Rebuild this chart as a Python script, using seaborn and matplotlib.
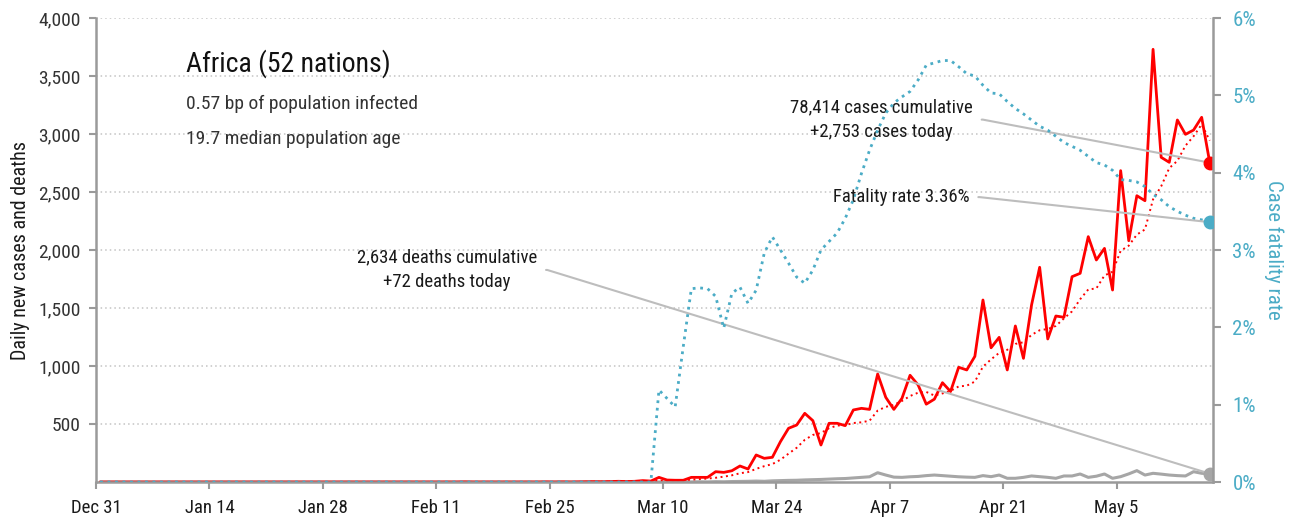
import numpy as np
import pandas as pd
import matplotlib
matplotlib.use("Agg")
import matplotlib.pyplot as plt
import matplotlib.dates as mdates
import seaborn as sns

# ---- data (Dec 31 2019 .. May 16 2020) ----
start_date = "2019-12-31"
tick_labels = ["Dec 31", "Jan 14", "Jan 28", "Feb 11", "Feb 25",
               "Mar 10", "Mar 24", "Apr 7", "Apr 21", "May 5"]

# daily new cases
cases = ([0] * 45
         + [1, 0, 0, 0, 0, 0, 0, 0, 0, 0, 1, 0, 1, 0, 1, 2, 3, 2, 4, 6, 4, 6, 12, 8]
         + [40, 17, 15, 15, 40, 40, 40, 89, 83, 97,
            138, 112, 233, 204, 213, 348, 463, 491, 592, 529,
            319, 506, 506, 486, 621, 635, 626, 931, 730, 626, 721]
         + [920, 836, 671, 714, 856, 780, 989, 966, 1083, 1569,
            1157, 1247, 966, 1345, 1066, 1526, 1851, 1233, 1431, 1420,
            1770, 1799, 2115, 1914, 2014, 1655, 2684, 2080, 2468, 2425,
            3730, 2799, 2756, 3121, 2997, 3034, 3144, 2753])

# daily new deaths
deaths = ([0] * 68
          + [1, 0, 1, 0, 1, 1, 2, 1, 3, 2, 4, 5, 6, 8, 6, 10, 12, 14]
          + [15, 18, 20, 22, 25, 28, 30, 35, 40, 45, 80, 60, 42, 40]
          + [45, 48, 55, 60, 55, 50, 45, 42, 40, 55]
          + [46, 60, 32, 32, 40, 52, 46, 40, 32, 52]
          + [52, 69, 40, 50, 69, 32, 46, 70, 98, 60]
          + [75, 68, 60, 55, 52, 89, 75, 72])

# case fatality rate, %
cfr = ([0] * 69
       + [1.19, 1.08, 0.97, 1.75, 2.50, 2.51, 2.50, 2.40, 1.99, 2.44]
       + [2.52, 2.31, 2.48, 2.96, 3.17, 3.00, 2.83, 2.65, 2.57, 2.74]
       + [3.00, 3.11, 3.22, 3.41, 3.65, 3.99, 4.29, 4.55, 4.77, 4.90]
       + [4.98, 5.05, 5.20, 5.39, 5.42, 5.45, 5.45, 5.37, 5.28, 5.25]
       + [5.13, 5.03, 5.02, 4.92, 4.83, 4.76, 4.68, 4.60, 4.55, 4.47]
       + [4.39, 4.34, 4.29, 4.21, 4.13, 4.10, 4.03, 3.91, 3.90, 3.88]
       + [3.82, 3.72, 3.65, 3.56, 3.50, 3.45, 3.41, 3.39, 3.36])

title = "Africa (52 nations)"
subtitle_1 = "0.57 bp of population infected"
subtitle_2 = "19.7 median population age"
cases_note = "78,414 cases cumulative\n+2,753 cases today"
deaths_note = "2,634 deaths cumulative\n+72 deaths today"
cfr_note = "Fatality rate 3.36%"

RED = "#ff0000"
CYAN = "#4bacc6"
GREY = "#a6a6a6"
LEAD = "#bdbdbd"
SPINE = "#9a9a9a"
TXT = "#1a1a1a"

sns.set_theme(style="white")
plt.rcParams["font.family"] = ["Roboto Condensed", "Liberation Sans Narrow",
                               "Roboto", "DejaVu Sans"]

# points sit at mid-day
dates = pd.date_range(start_date, periods=len(cases), freq="D") + pd.Timedelta(hours=12)
df = pd.DataFrame({"date": dates, "cases": cases, "deaths": deaths, "cfr": cfr})
df["avg"] = df["cases"].rolling(7, min_periods=1).mean()
last = df.iloc[-1]

fig = plt.figure(figsize=(12.91, 5.22), dpi=100)
ax = fig.add_axes([96 / 1291, 40 / 522, 1117 / 1291, 464 / 522])

sns.lineplot(data=df, x="date", y="deaths", color=GREY, lw=2.2, ax=ax)
sns.lineplot(data=df, x="date", y="avg", color=RED, lw=1.4, linestyle=(0, (1, 1.8)), ax=ax)
sns.lineplot(data=df, x="date", y="cases", color=RED, lw=2.0, ax=ax)
ax.plot([last["date"]], [last["cases"]], "o", color=RED, ms=9, zorder=5)
ax.plot([last["date"]], [last["deaths"]], "o", color=GREY, ms=9, zorder=5)

ax2 = ax.twinx()
sns.lineplot(data=df, x="date", y="cfr", color=CYAN, lw=2.0,
             linestyle=(0, (1, 1.7)), ax=ax2)
ax2.plot([last["date"]], [last["cfr"]], "o", color=CYAN, ms=9, zorder=5)

# axes ranges
x0 = mdates.date2num(pd.Timestamp(start_date))
ax.set_xlim(x0, x0 + 137.9)
ax.set_ylim(0, 4000)
ax2.set_ylim(0, 6)

tick_pos = pd.date_range(start_date, periods=len(tick_labels), freq="14D")
ax.set_xticks(tick_pos)
ax.set_xticklabels(tick_labels)
ax.set_yticks(np.arange(500, 4001, 500))
ax.set_yticklabels([f"{v:,.0f}" for v in np.arange(500, 4001, 500)])
ax2.set_yticks(range(0, 7))
ax2.set_yticklabels([f"{v}%" for v in range(0, 7)])

ax.yaxis.grid(True, color="#c4c4c4", linestyle=(0, (1, 2)), lw=1.1)
ax.xaxis.grid(False)
ax2.grid(False)

for a in (ax, ax2):
    a.spines["top"].set_visible(False)
    for s in a.spines.values():
        s.set_color(SPINE)
        s.set_linewidth(1.8)
ax.spines["right"].set_visible(False)
ax2.spines["left"].set_visible(False)
ax2.spines["bottom"].set_visible(False)

ax.tick_params(axis="x", bottom=True, length=5, width=1.5, color=SPINE, pad=7,
               labelsize=13.5, labelcolor=TXT)
ax.tick_params(axis="y", left=True, length=5, width=1.5, color=SPINE, pad=6,
               labelsize=14, labelcolor="#333333")
ax2.tick_params(axis="y", right=True, length=6, width=1.5, color=SPINE, pad=8,
                labelsize=15, labelcolor=CYAN)

ax.set_xlabel("")
ax.set_ylabel("Daily new cases and deaths", fontsize=14.5, color=TXT, labelpad=6)
ax2.set_xlabel("")
ax2.set_ylabel("Case fatality rate", fontsize=15, color=CYAN, rotation=-90,
               labelpad=20)

# title block
ax.text(0.0806, 0.902, title, transform=ax.transAxes, fontsize=20,
        color="#111111", va="center", ha="left")
ax.text(0.0806, 0.815, subtitle_1, transform=ax.transAxes, fontsize=14,
        color="#333333", va="center", ha="left")
ax.text(0.0806, 0.739, subtitle_2, transform=ax.transAxes, fontsize=14,
        color="#333333", va="center", ha="left")

# leader notes: short flat stub off the text, then straight to the end point
lead = dict(arrowstyle="-", color=LEAD, lw=1.5, shrinkA=4, shrinkB=0,
            relpos=(1, 0.5),
            connectionstyle="arc,angleA=0,armA=10,angleB=0,armB=0,rad=0")
xl = mdates.date2num(last["date"])
ax.annotate(cases_note, xy=(xl, last["cases"]), xytext=(0.785, 0.781),
            textcoords="axes fraction", ha="right", va="center",
            multialignment="center", linespacing=1.45, fontsize=13.5,
            color=TXT, arrowprops=lead, zorder=4)
ax.annotate(deaths_note, xy=(xl, last["deaths"]), xytext=(0.395, 0.457),
            textcoords="axes fraction", ha="right", va="center",
            multialignment="center", linespacing=1.45, fontsize=13.5,
            color=TXT, arrowprops=lead, zorder=4)
ax2.annotate(cfr_note, xy=(xl, last["cfr"]), xytext=(0.782, 0.614),
             textcoords="axes fraction", ha="right", va="center",
             fontsize=13.5, color=TXT, arrowprops=lead, zorder=4)

fig.savefig("out.png", dpi=100)
